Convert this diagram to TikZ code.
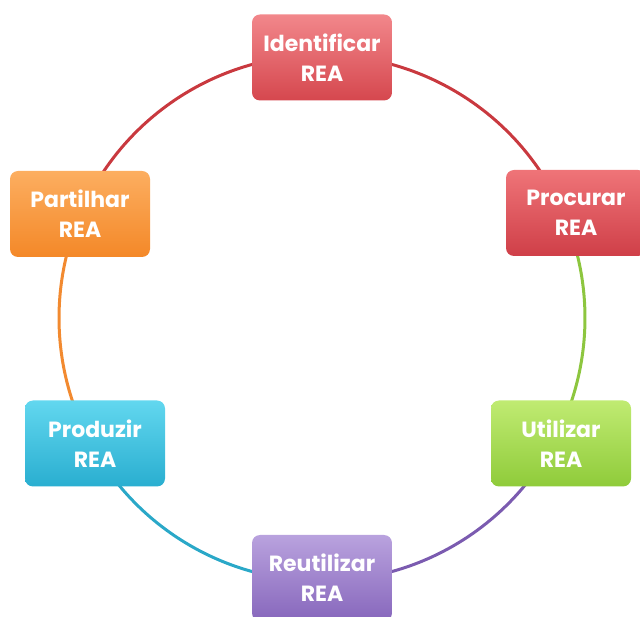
\documentclass[tikz,border=0pt]{standalone}
\usepackage{fontspec}
\setmainfont{Poppins}
\definecolor{redT}{HTML}{F2878B}\definecolor{redB}{HTML}{D5474E}
\definecolor{red2T}{HTML}{EF7478}\definecolor{red2B}{HTML}{CF3F48}
\definecolor{grnT}{HTML}{C0EB72}\definecolor{grnB}{HTML}{8FCB3A}
\definecolor{purT}{HTML}{B9A2DE}\definecolor{purB}{HTML}{8767BC}
\definecolor{cyaT}{HTML}{62D7EF}\definecolor{cyaB}{HTML}{29AED0}
\definecolor{oraT}{HTML}{FCAE60}\definecolor{oraB}{HTML}{F48828}
\definecolor{redL}{HTML}{C9393F}\definecolor{grnL}{HTML}{8DC63F}
\definecolor{purL}{HTML}{7B5BB0}\definecolor{cyaL}{HTML}{2AA8C8}
\definecolor{oraL}{HTML}{F28A30}
\begin{document}
\begin{tikzpicture}[x=1pt,y=1pt,
  box/.style={rounded corners=8pt, minimum width=140pt, minimum height=86pt,
    text=white, font=\fontsize{22}{30}\selectfont\bfseries, align=center, inner sep=0pt},
  ring/.style={line width=3pt}]
\useasboundingbox (0,0) rectangle (640,616);
\coordinate (c) at (322,298);
\def\R{263}
\draw[ring, redL] (c) ++(156.7:\R) arc[start angle=156.7, end angle=90, radius=\R];
\draw[ring, redL] (c) ++(90:\R) arc[start angle=90, end angle=22.5, radius=\R];
\draw[ring, grnL] (c) ++(22.5:\R) arc[start angle=22.5, end angle=-27.7, radius=\R];
\draw[ring, purL] (c) ++(-27.7:\R) arc[start angle=-27.7, end angle=-90, radius=\R];
\draw[ring, cyaL] (c) ++(-90:\R) arc[start angle=-90, end angle=-151, radius=\R];
\draw[ring, oraL] (c) ++(-151:\R) arc[start angle=-151, end angle=-203.3, radius=\R];
\node[box, top color=redT, bottom color=redB] (ident) at (322,558.5) {Identificar\\REA};
\node[box, top color=red2T, bottom color=red2B] (proc) at (576,403) {Procurar\\REA};
\node[box, top color=grnT, bottom color=grnB] (util) at (561,172.5) {Utilizar\\REA};
\node[box, top color=purT, bottom color=purB] (reut) at (322,38) {Reutilizar\\REA};
\node[box, top color=cyaT, bottom color=cyaB] (prod) at (95,172.5) {Produzir\\REA};
\node[box, top color=oraT, bottom color=oraB] (part) at (80,402) {Partilhar\\REA};
\end{tikzpicture}
\end{document}
